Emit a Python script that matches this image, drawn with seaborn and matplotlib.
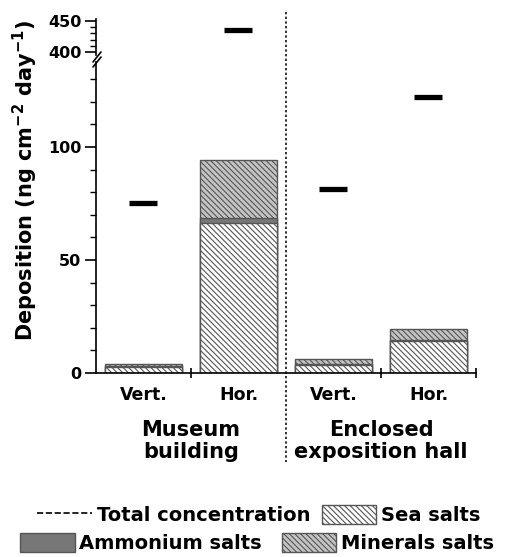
import numpy as np
import pandas as pd
import matplotlib
matplotlib.use("Agg")
import matplotlib.pyplot as plt
import matplotlib.transforms as mtransforms
from matplotlib.lines import Line2D
from matplotlib.patches import Patch
import seaborn as sns

# valores (ng cm-2 day-1)
samples = ["MB-V", "MB-H", "EH-V", "EH-H"]
position_labels = ["Vert.", "Hor.", "Vert.", "Hor."]
site_labels = ["Museum\nbuilding", "Enclosed\nexposition hall"]
sea_salts = [2.6, 66.4, 3.5, 14.0]
ammonium_salts = [0.4, 2.2, 0.5, 0.4]
mineral_salts = [1.0, 25.6, 2.2, 5.1]
total_concentration = [75.0, 435.0, 81.5, 122.0]

sns.set_style("ticks")
plt.rcParams["font.family"] = ["DejaVu Sans"]
plt.rcParams["font.weight"] = "bold"
plt.rcParams["hatch.linewidth"] = 0.8
plt.rcParams["hatch.color"] = "#5a5a5a"
for k in ("text.color", "axes.labelcolor", "xtick.color", "ytick.color",
          "axes.edgecolor"):
    plt.rcParams[k] = "black"

df = pd.DataFrame({
    "sample": samples,
    "sea": sea_salts,
    "amm": ammonium_salts,
    "min": mineral_salts,
    "total": total_concentration,
})
df["sea_amm"] = df["sea"] + df["amm"]
df["stack"] = df["sea_amm"] + df["min"]
pos = np.arange(len(samples))

W, H = 506, 557
fig = plt.figure(figsize=(W / 100, H / 100), dpi=100)


def px_box(left, top, right, bottom):
    return [left / W, 1 - bottom / H, (right - left) / W, (bottom - top) / H]


ax = fig.add_axes(px_box(96, 62, 476, 373))
ax_top = fig.add_axes(px_box(96, 19, 476, 55), sharex=ax)

edge = "#555555"
c_min, c_amm, c_sea = "#c4c4c4", "#777777", "white"
hatch = "\\" * 6
bar_kw = dict(x="sample", ax=ax, width=0.81, edgecolor=edge, linewidth=1,
              saturation=1, errorbar=None)

# capas acumuladas: total (minerales), mar+amonio, mar
sns.barplot(data=df, y="stack", color=c_min, hatch=hatch, **bar_kw)
sns.barplot(data=df, y="sea_amm", color=c_amm, **bar_kw)
sns.barplot(data=df, y="sea", color=c_sea, hatch=hatch, **bar_kw)

for a in (ax, ax_top):
    sns.scatterplot(x=pos, y=df["total"], marker="_", s=380, linewidth=3.8,
                    color="black", edgecolor="black", ax=a, legend=False,
                    zorder=5)
    a.set_facecolor("none")
    a.spines[["top", "right"]].set_visible(False)
    a.spines["left"].set_linewidth(1.2)
    a.set_xlabel("")
    a.set_ylabel("")
    a.tick_params(axis="y", which="major", length=8, width=1.2, pad=2.5,
                  labelsize=11.5)
    a.tick_params(axis="y", which="minor", length=4, width=1)

ax_top.spines["bottom"].set_visible(False)
ax_top.tick_params(axis="x", which="both", bottom=False, labelbottom=False)

ax.set_ylim(0, 137.6)
ax_top.set_ylim(395.2, 453.2)
ax.set_yticks([0, 50, 100])
ax.set_yticks(np.arange(0, 131, 10), minor=True)
ax_top.set_yticks([400, 450])
ax_top.set_yticks(np.arange(400, 451, 10), minor=True)

ax.set_xlim(-0.5, 3.5)
ax.set_xticks(pos, labels=position_labels)
ax.tick_params(axis="x", which="major", length=0, pad=9, labelsize=12.5)
bounds = [b for b in pos + 0.5 if b != 1.5]
ax.set_xticks(bounds, minor=True)
ax.tick_params(axis="x", which="minor", length=7, width=1.2, direction="inout")
ax.spines["bottom"].set_linewidth(1.2)

trans = mtransforms.blended_transform_factory(ax.transData, fig.transFigure)

# separador punteado entre edificios
ax.plot([1.5, 1.5], [1 - 12 / H, 1 - 462 / H], transform=trans, clip_on=False,
        color="#333333", linewidth=1.4, linestyle=(0, (1.2, 1.2)))

# etiquetas de sitio
for i, lab in enumerate(site_labels):
    xc = pos[2 * i:2 * i + 2].mean()
    ax.text(xc, 1 - 441 / H, lab, transform=trans, ha="center", va="center",
            fontsize=15, fontweight="bold", linespacing=1.15)

# marcas de corte del eje
for dy in (0, 5):
    fig.add_artist(Line2D([93 / W, 101 / W],
                          [1 - (62 + dy) / H, 1 - (52 + dy) / H],
                          color="black", linewidth=1.2))

fig.text(25 / W, 1 - 181 / H, r"Deposition (ng cm$^{\mathbf{-2}}$ day$^{\mathbf{-1}}$)",
         rotation=90, ha="center", va="center", fontsize=15, fontweight="bold")

prop = {"weight": "bold", "size": 14}
leg_kw = dict(loc="center", ncol=2, frameon=False, prop=prop, handlelength=2.8,
              handleheight=1.1, handletextpad=0.25, borderpad=0,
              borderaxespad=0)
fig.legend(handles=[Line2D([], [], color="black", linestyle="--", linewidth=1.2),
                    Patch(facecolor=c_sea, edgecolor=edge, hatch=hatch)],
           labels=["Total concentration", "Sea salts"],
           bbox_to_anchor=(259 / W, 1 - 515 / H), columnspacing=0.6, **leg_kw)
fig.legend(handles=[Patch(facecolor=c_amm, edgecolor=edge),
                    Patch(facecolor=c_min, edgecolor=edge, hatch=hatch)],
           labels=["Ammonium salts", "Minerals salts"],
           bbox_to_anchor=(257 / W, 1 - 543 / H), columnspacing=1.0, **leg_kw)

fig.savefig("out.png", dpi=100)
